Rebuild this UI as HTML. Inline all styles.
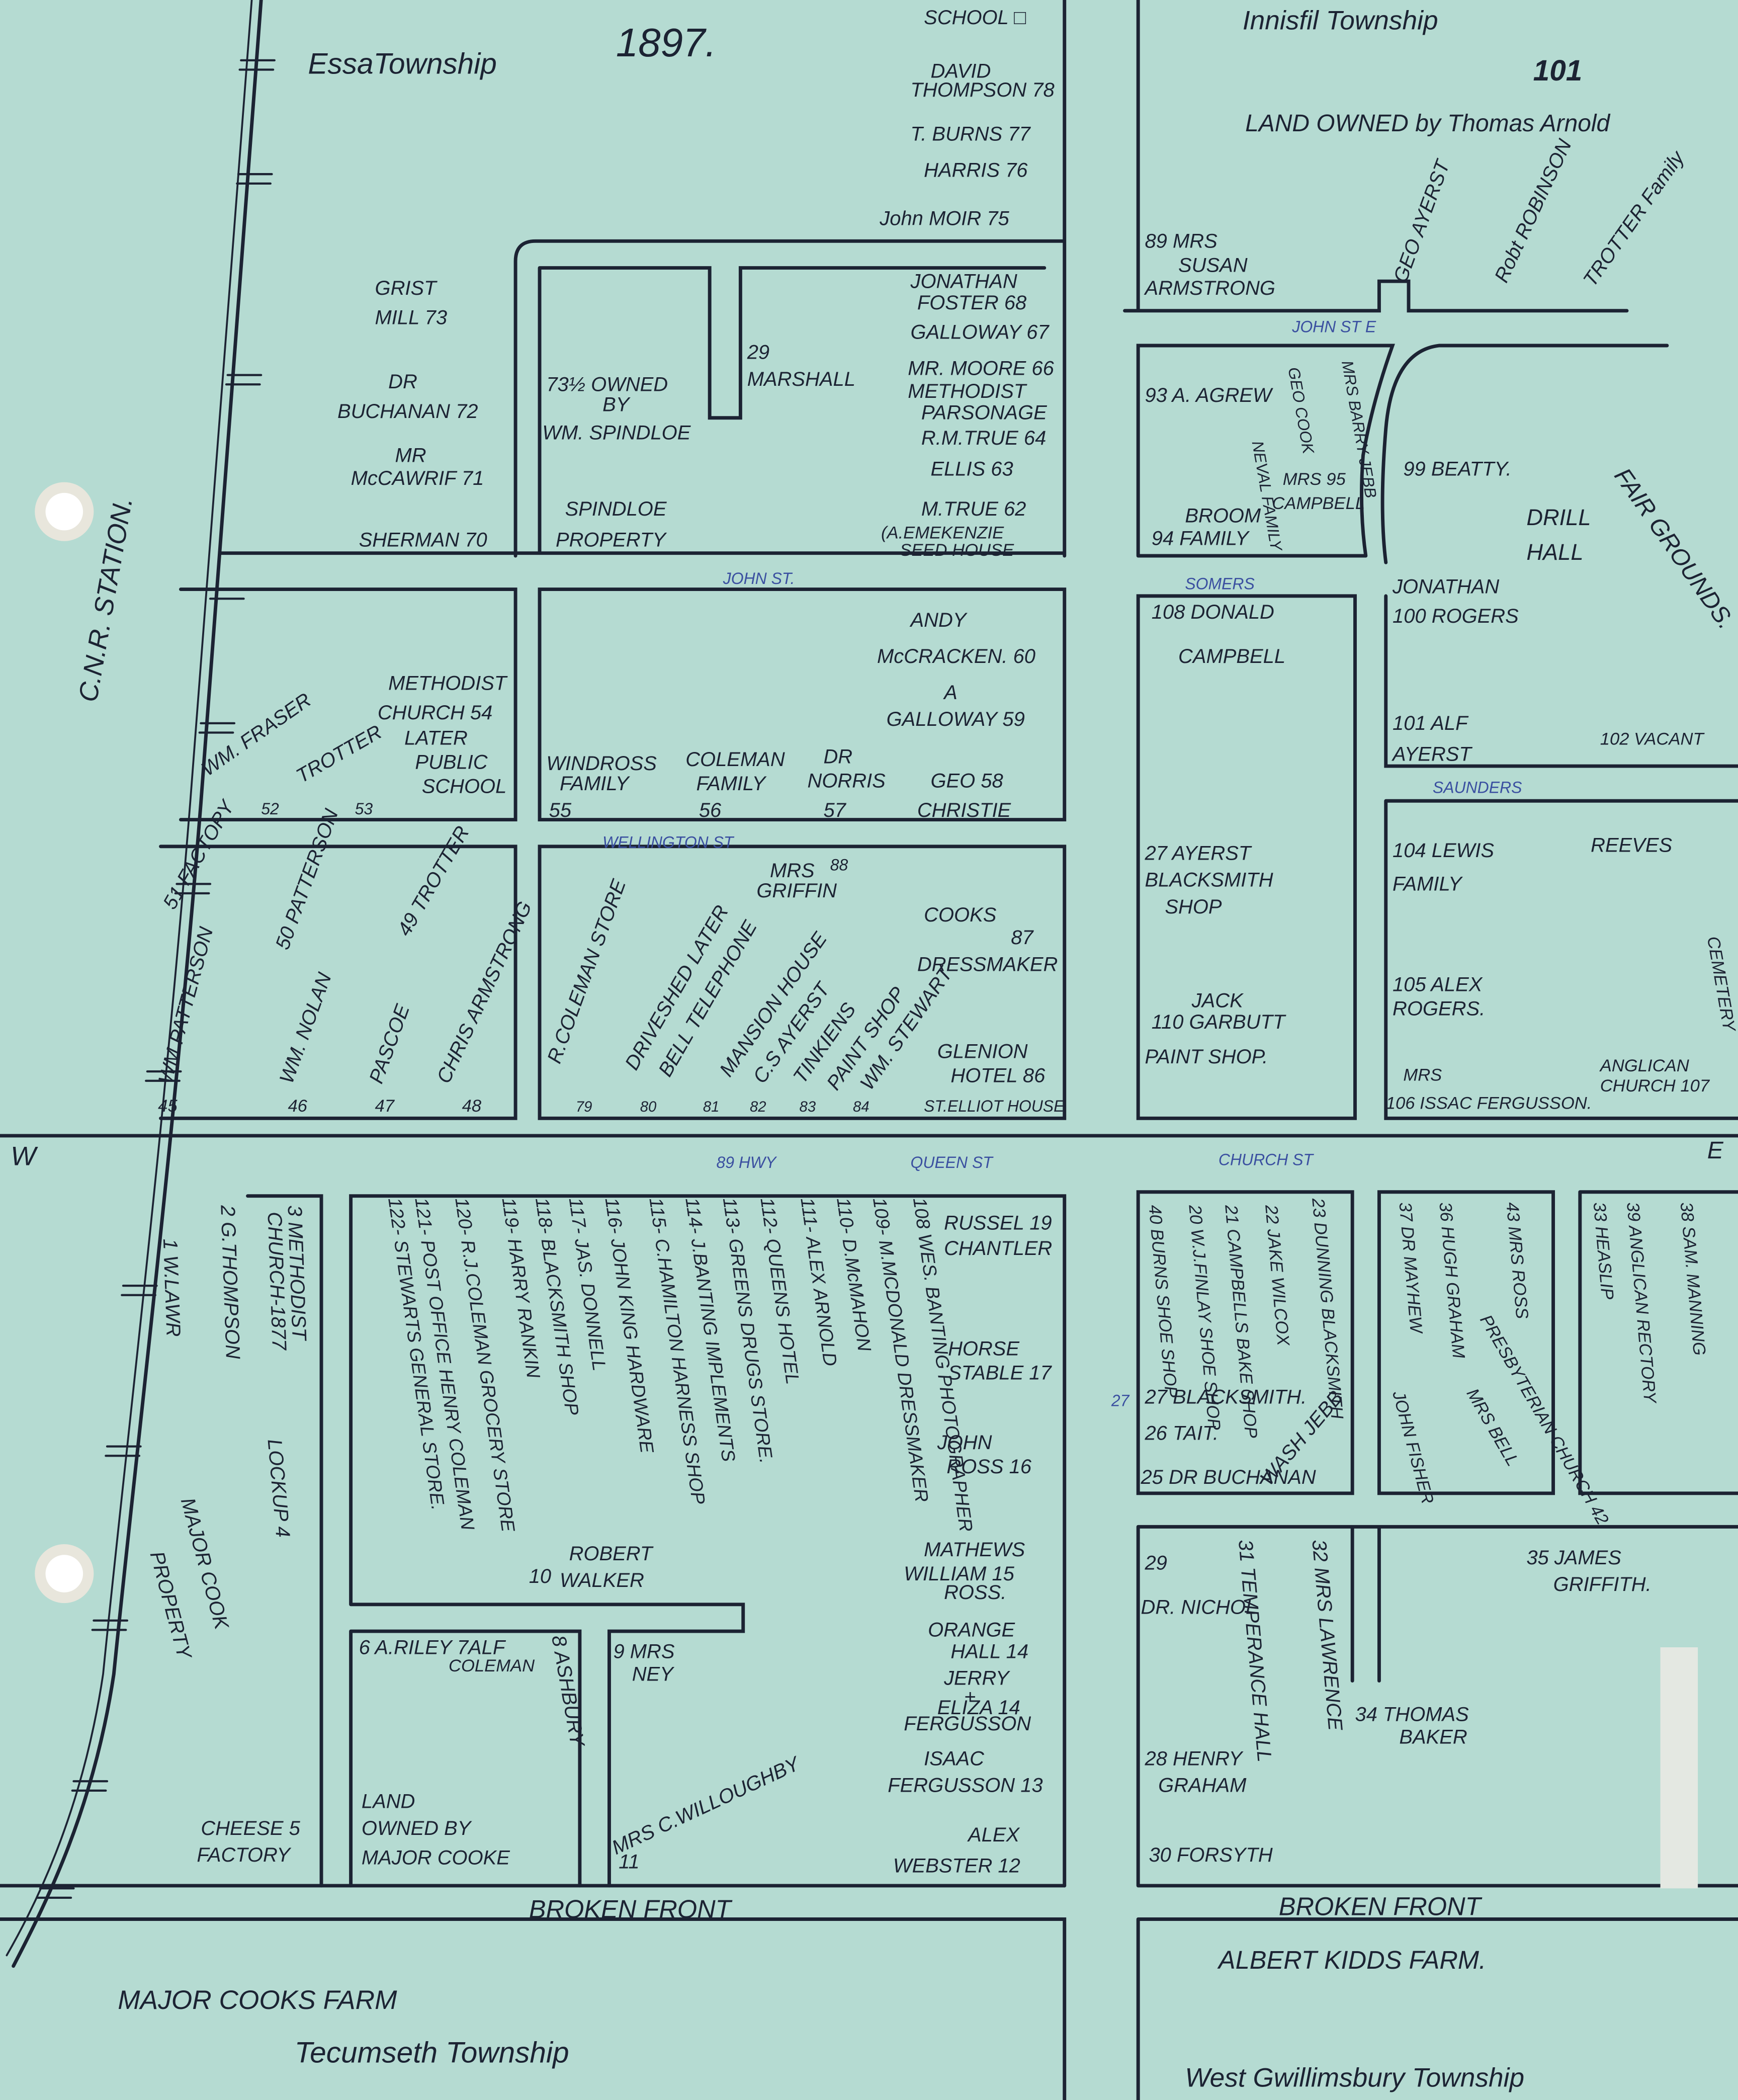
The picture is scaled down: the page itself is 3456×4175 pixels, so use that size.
<!DOCTYPE html>
<html><head><meta charset="utf-8"><style>
html,body{margin:0;padding:0;background:#b5dbd2;}
svg{display:block}
text{font-family:"Liberation Sans",sans-serif;fill:#1c2333;font-style:italic;}
.b{fill:#3a4fa0;font-size:12px}
</style></head><body>
<svg width="3456" height="4175" viewBox="0 0 1298 1568" xmlns="http://www.w3.org/2000/svg">
<rect width="1298" height="1568" fill="#b5dbd2"/>
<g stroke="#1c2333" stroke-width="2.6" fill="none" stroke-linecap="round">
<!-- railway -->
<path d="M195 0 C185 150 170 350 150 600 C130 850 100 1100 85 1250 C70 1350 35 1420 10 1468"/>
<path d="M188 0 C178 150 162 350 142 600 C122 850 92 1100 77 1250 C62 1350 28 1420 5 1460" stroke-width="1.4"/>
<g stroke-width="1.6">
<path d="M180 45 H205 M179 52 H204 M178 130 H203 M177 137 H202 M170 280 H195 M169 287 H194 M158 440 H183 M157 447 H182 M150 540 H175 M149 547 H174 M132 660 H157 M131 667 H156 M110 800 H135 M109 807 H134 M92 960 H117 M91 967 H116 M80 1080 H105 M79 1087 H104 M70 1210 H95 M69 1217 H94 M55 1330 H80 M54 1337 H79 M30 1410 H55 M28 1417 H53"/>
</g>
<!-- top middle block -->
<path d="M795 0 V415 M385 415 V195 Q385 180 400 180 H795 M165 413 H795"/>
<path d="M403 200 V413 M403 200 H530 V312 H553 V200 H780"/>
<path d="M135 440 H385 V612 H135 M403 440 H795 V612 H403 Z"/>
<path d="M120 632 H385 V835 H120 M403 632 H795 V835 H403 Z"/>
<path d="M0 848 H1298"/>
<path d="M185 893 H240 V1408 M262 1198 V893 H795 V1408 M262 1198 H555 V1218 H455 V1408 M262 1218 H433 V1408 M262 1218 V1408"/>
<path d="M0 1408 H795 M0 1433 H795 V1568"/>
<path d="M850 0 V232 M840 232 H1030 V210 H1052 V232 H1215"/>
<path d="M850 415 V258 H1040 Q1025 300 1018 340 Q1015 380 1020 415 M850 415 H1020"/>
<path d="M1075 258 H1245 M1075 258 Q1040 262 1035 320 Q1030 380 1035 420"/>
<path d="M850 445 H1012 V835 H850 Z M1035 445 V572 H1298 M1035 598 H1298 M1035 598 V835 H1298"/>
<path d="M850 890 H1010 V1115 H850 Z M1030 890 H1160 V1115 H1030 Z M1180 890 H1298 M1180 890 V1115 H1298"/>
<path d="M850 1140 H1298 M850 1140 V1408 M1010 1140 V1255 M1030 1140 V1255 M850 1408 H1298 M850 1433 H1298 M850 1433 V1568"/>
</g>
<circle cx="48" cy="382" r="22" fill="#e8e6dc"/><circle cx="48" cy="382" r="14" fill="#fff"/>
<circle cx="48" cy="1175" r="22" fill="#e8e6dc"/><circle cx="48" cy="1175" r="14" fill="#fff"/>
<rect x="1240" y="1230" width="28" height="180" fill="#e4e8e2"/>
<g font-size="15">
<text x="230" y="55" font-size="22">EssaTownship</text>
<text x="460" y="42" font-size="30">1897.</text>
<text x="690" y="18">SCHOOL □</text>
<text x="695" y="58">DAVID</text><text x="680" y="72">THOMPSON 78</text>
<text x="680" y="105">T. BURNS 77</text><text x="690" y="132">HARRIS 76</text>
<text x="657" y="168">John MOIR 75</text>
<text x="928" y="22" font-size="20">Innisfil Township</text>
<text x="1145" y="60" font-size="22" font-style="normal" font-family="Liberation Serif" font-weight="bold">101</text>
<text x="930" y="98" font-size="18">LAND OWNED by Thomas Arnold</text>
<text x="280" y="220">GRIST</text><text x="280" y="242">MILL 73</text>
<text x="290" y="290">DR</text><text x="252" y="312">BUCHANAN 72</text>
<text x="295" y="345">MR</text><text x="262" y="362">McCAWRIF 71</text>
<text x="268" y="408">SHERMAN 70</text>
<text x="408" y="292">73½ OWNED</text><text x="450" y="307">BY</text><text x="405" y="328">WM. SPINDLOE</text>
<text x="422" y="385">SPINDLOE</text><text x="415" y="408">PROPERTY</text>
<text x="558" y="268">29</text><text x="558" y="288">MARSHALL</text>
<text x="680" y="215">JONATHAN</text><text x="685" y="231">FOSTER 68</text>
<text x="680" y="253">GALLOWAY 67</text><text x="678" y="280">MR. MOORE 66</text>
<text x="678" y="297">METHODIST</text><text x="688" y="313">PARSONAGE</text>
<text x="688" y="332">R.M.TRUE 64</text><text x="695" y="355">ELLIS 63</text>
<text x="688" y="385">M.TRUE 62</text><text x="658" y="402" font-size="13">(A.EMEKENZIE</text><text x="672" y="415" font-size="13">SEED HOUSE</text>
<text x="855" y="185">89 MRS</text><text x="880" y="203">SUSAN</text><text x="855" y="220">ARMSTRONG</text>
<text transform="translate(1050 212) rotate(-70)">GEO AYERST</text>
<text transform="translate(1125 212) rotate(-65)">Robt ROBINSON</text>
<text transform="translate(1190 215) rotate(-55)">TROTTER Family</text>
<text x="965" y="248" class="b">JOHN ST E</text>
<text x="855" y="300">93 A. AGREW</text>
<text transform="translate(935 330) rotate(80)" font-size="12">NEVAL FAMILY</text>
<text transform="translate(962 275) rotate(80)" font-size="12">GEO COOK</text>
<text transform="translate(1002 270) rotate(80)" font-size="12">MRS BARRY JEBB</text>
<text x="958" y="362" font-size="13">MRS 95</text><text x="950" y="380" font-size="13">CAMPBELL</text>
<text x="885" y="390">BROOM</text><text x="860" y="407">94 FAMILY</text>
<text x="1048" y="355">99 BEATTY.</text>
<text x="1140" y="392" font-size="17">DRILL</text><text x="1140" y="418" font-size="17">HALL</text>
<text transform="translate(1205 355) rotate(55)" font-size="18">FAIR GROUNDS.</text>
<text x="540" y="436" class="b">JOHN ST.</text>
<text x="885" y="440" class="b">SOMERS</text>
<text x="680" y="468">ANDY</text><text x="655" y="495">McCRACKEN. 60</text>
<text x="705" y="522">A</text><text x="662" y="542">GALLOWAY 59</text>
<text x="290" y="515">METHODIST</text><text x="282" y="537">CHURCH 54</text>
<text x="302" y="556">LATER</text><text x="310" y="574">PUBLIC</text><text x="315" y="592">SCHOOL</text>
<text transform="translate(155 580) rotate(-35)">WM. FRASER</text>
<text transform="translate(225 585) rotate(-30)">TROTTER</text>
<text x="195" y="608" font-size="12">52</text><text x="265" y="608" font-size="12">53</text>
<text x="408" y="575">WINDROSS</text><text x="418" y="590">FAMILY</text><text x="410" y="610">55</text>
<text x="512" y="572">COLEMAN</text><text x="520" y="590">FAMILY</text><text x="522" y="610">56</text>
<text x="615" y="570">DR</text><text x="603" y="588">NORRIS</text><text x="615" y="610">57</text>
<text x="695" y="588">GEO 58</text><text x="685" y="610">CHRISTIE</text>
<text x="860" y="462">108 DONALD</text><text x="880" y="495">CAMPBELL</text>
<text x="1040" y="443">JONATHAN</text><text x="1040" y="465">100 ROGERS</text>
<text x="1040" y="545">101 ALF</text><text x="1040" y="568">AYERST</text>
<text x="1195" y="556" font-size="13">102 VACANT</text>
<text x="1070" y="592" class="b">SAUNDERS</text>
<text x="450" y="633" class="b">WELLINGTON ST</text>
<text x="620" y="650" font-size="12">88</text>
<text x="575" y="655">MRS</text><text x="565" y="670">GRIFFIN</text>
<text x="690" y="688">COOKS</text><text x="755" y="705">87</text><text x="685" y="725">DRESSMAKER</text>
<text x="700" y="790">GLENION</text><text x="710" y="808">HOTEL 86</text>
<text x="690" y="830" font-size="12">ST.ELLIOT HOUSE</text>
<text transform="translate(130 680) rotate(-60)">51 FACTORY</text>
<text transform="translate(215 710) rotate(-70)">50 PATTERSON</text>
<text transform="translate(305 700) rotate(-60)">49 TROTTER</text>
<text transform="translate(128 810) rotate(-75)">WM PATTERSON</text>
<text transform="translate(218 810) rotate(-70)">WM. NOLAN</text>
<text transform="translate(285 810) rotate(-70)">PASCOE</text>
<text transform="translate(335 810) rotate(-65)">CHRIS ARMSTRONG</text>
<text x="118" y="830" font-size="13">45</text><text x="215" y="830" font-size="13">46</text><text x="280" y="830" font-size="13">47</text><text x="345" y="830" font-size="13">48</text>
<text transform="translate(418 795) rotate(-70)">R.COLEMAN STORE</text>
<text transform="translate(475 800) rotate(-60)">DRIVESHED LATER</text>
<text transform="translate(500 805) rotate(-60)">BELL TELEPHONE</text>
<text transform="translate(545 805) rotate(-55)">MANSION HOUSE</text>
<text transform="translate(570 810) rotate(-55)">C.S AYERST</text>
<text transform="translate(600 810) rotate(-55)">TINKIENS</text>
<text transform="translate(625 815) rotate(-55)">PAINT SHOP</text>
<text transform="translate(650 815) rotate(-55)">WM. STEWART</text>
<text x="430" y="830" font-size="11">79</text><text x="478" y="830" font-size="11">80</text><text x="525" y="830" font-size="11">81</text><text x="560" y="830" font-size="11">82</text><text x="597" y="830" font-size="11">83</text><text x="637" y="830" font-size="11">84</text>
<text x="855" y="642">27 AYERST</text><text x="855" y="662">BLACKSMITH</text><text x="870" y="682">SHOP</text>
<text x="1040" y="640">104 LEWIS</text><text x="1040" y="665">FAMILY</text>
<text x="1188" y="636">REEVES</text>
<text x="1040" y="740">105 ALEX</text><text x="1040" y="758">ROGERS.</text>
<text x="890" y="752">JACK</text><text x="860" y="768">110 GARBUTT</text><text x="855" y="794">PAINT SHOP.</text>
<text x="1048" y="807" font-size="13">MRS</text><text x="1035" y="828" font-size="13">106 ISSAC FERGUSSON.</text>
<text x="1195" y="800" font-size="13">ANGLICAN</text><text x="1195" y="815" font-size="13">CHURCH 107</text>
<text transform="translate(1275 700) rotate(80)" font-size="13">CEMETERY</text>
<text x="8" y="870" font-size="20">W</text>
<text x="1275" y="865" font-size="18">E</text>
<text transform="translate(72 525) rotate(-80)" font-size="20">C.N.R. STATION.</text>
<text x="535" y="872" class="b">89 HWY</text><text x="680" y="872" class="b">QUEEN ST</text>
<text x="910" y="870" class="b">CHURCH ST</text>
<text transform="translate(165 900) rotate(88)">2 G.THOMPSON</text>
<text transform="translate(122 925) rotate(88)">1 W.LAWR</text>
<text transform="translate(215 900) rotate(88)">3 METHODIST</text>
<text transform="translate(200 905) rotate(88)">CHURCH-1877</text>
<text transform="translate(200 1075) rotate(85)">LOCKUP 4</text>
<text transform="translate(135 1120) rotate(75)">MAJOR COOK</text>
<text transform="translate(112 1160) rotate(75)">PROPERTY</text>
<text x="150" y="1370">CHEESE 5</text><text x="147" y="1390">FACTORY</text>
<g font-size="14">
<text transform="translate(290 895) rotate(82)">122- STEWARTS GENERAL STORE.</text>
<text transform="translate(310 895) rotate(82)">121- POST OFFICE HENRY COLEMAN</text>
<text transform="translate(340 895) rotate(82)">120- R.J.COLEMAN GROCERY STORE</text>
<text transform="translate(375 895) rotate(82)">119- HARRY RANKIN</text>
<text transform="translate(400 895) rotate(82)">118- BLACKSMITH SHOP</text>
<text transform="translate(425 895) rotate(82)">117- JAS. DONNELL</text>
<text transform="translate(452 895) rotate(82)">116- JOHN KING HARDWARE</text>
<text transform="translate(485 895) rotate(82)">115- C.HAMILTON HARNESS SHOP</text>
<text transform="translate(512 895) rotate(82)">114- J.BANTING IMPLEMENTS</text>
<text transform="translate(540 895) rotate(82)">113- GREENS DRUGS STORE.</text>
<text transform="translate(568 895) rotate(82)">112- QUEENS HOTEL</text>
<text transform="translate(598 895) rotate(82)">111- ALEX ARNOLD</text>
<text transform="translate(625 895) rotate(82)">110- D.McMAHON</text>
<text transform="translate(652 895) rotate(82)">109- M.MCDONALD DRESSMAKER</text>
<text transform="translate(682 895) rotate(82)">108 WES. BANTING PHOTOGRAPHER</text>
</g>
<text x="705" y="918">RUSSEL 19</text><text x="705" y="937">CHANTLER</text>
<text x="708" y="1012">HORSE</text><text x="708" y="1030">STABLE 17</text>
<text x="700" y="1082">JOHN</text><text x="707" y="1100">ROSS 16</text>
<text x="690" y="1162">MATHEWS</text><text x="675" y="1180">WILLIAM 15</text><text x="705" y="1194">ROSS.</text>
<text x="693" y="1222">ORANGE</text><text x="710" y="1238">HALL 14</text>
<text x="705" y="1258">JERRY</text><text x="720" y="1272">+</text><text x="700" y="1280">ELIZA 14</text><text x="675" y="1292">FERGUSSON</text>
<text x="690" y="1318">ISAAC</text><text x="663" y="1338">FERGUSSON 13</text>
<text x="723" y="1375">ALEX</text><text x="667" y="1398">WEBSTER 12</text>
<text x="395" y="1182">10</text><text x="425" y="1165">ROBERT</text><text x="418" y="1185">WALKER</text>
<text x="268" y="1235">6 A.RILEY 7ALF</text><text x="335" y="1248" font-size="13">COLEMAN</text>
<text transform="translate(412 1222) rotate(80)">8 ASHBURY</text>
<text x="458" y="1238">9 MRS</text><text x="472" y="1255">NEY</text>
<text x="270" y="1350">LAND</text><text x="270" y="1370">OWNED BY</text><text x="270" y="1392">MAJOR COOKE</text>
<text transform="translate(460 1385) rotate(-25)">MRS C.WILLOUGHBY</text>
<text x="462" y="1395">11</text>
<text x="395" y="1432" font-size="19">BROKEN FRONT</text>
<text x="955" y="1430" font-size="19">BROKEN FRONT</text>
<g font-size="13">
<text transform="translate(858 900) rotate(85)">40 BURNS SHOE SHOP</text>
<text transform="translate(888 900) rotate(85)">20 W.J.FINLAY SHOE SHOP</text>
<text transform="translate(915 900) rotate(85)">21 CAMPBELLS BAKE SHOP</text>
<text transform="translate(945 900) rotate(85)">22 JAKE WILCOX</text>
<text transform="translate(980 895) rotate(85)">23 DUNNING BLACKSMITH</text>
<text transform="translate(1045 898) rotate(85)">37 DR MAYHEW</text>
<text transform="translate(1075 898) rotate(85)">36 HUGH GRAHAM</text>
<text transform="translate(1125 898) rotate(85)">43 MRS ROSS</text>
<text transform="translate(1105 985) rotate(60)">PRESBYTERIAN CHURCH 42</text>
<text transform="translate(1095 1040) rotate(60)">MRS BELL</text>
<text transform="translate(1040 1040) rotate(75)">JOHN FISHER</text>
<text transform="translate(1190 898) rotate(85)">33 HEASLIP</text>
<text transform="translate(1215 898) rotate(85)">39 ANGLICAN RECTORY</text>
<text transform="translate(1255 898) rotate(85)">38 SAM. MANNING</text>
</g>
<text x="830" y="1050" class="b">27</text>
<text x="855" y="1048">27 BLACKSMITH.</text>
<text x="855" y="1075">26 TAIT.</text>
<text x="852" y="1108">25 DR BUCHANAN</text>
<text transform="translate(948 1110) rotate(-50)">WASH JEBB</text>
<text x="855" y="1172">29</text>
<text x="852" y="1205">DR. NICHOL</text>
<text transform="translate(925 1150) rotate(85)">31 TEMPERANCE HALL</text>
<text transform="translate(980 1150) rotate(85)">32 MRS LAWRENCE</text>
<text x="1140" y="1168">35 JAMES</text><text x="1160" y="1188">GRIFFITH.</text>
<text x="1012" y="1285">34 THOMAS</text><text x="1045" y="1302">BAKER</text>
<text x="855" y="1318">28 HENRY</text><text x="865" y="1338">GRAHAM</text>
<text x="858" y="1390">30 FORSYTH</text>
<text x="910" y="1470" font-size="19">ALBERT KIDDS FARM.</text>
<text x="88" y="1500" font-size="20">MAJOR COOKS FARM</text>
<text x="220" y="1540" font-size="22">Tecumseth Township</text>
<text x="885" y="1558" font-size="20">West Gwillimsbury Township</text>
</g>
</svg>
</body></html>
